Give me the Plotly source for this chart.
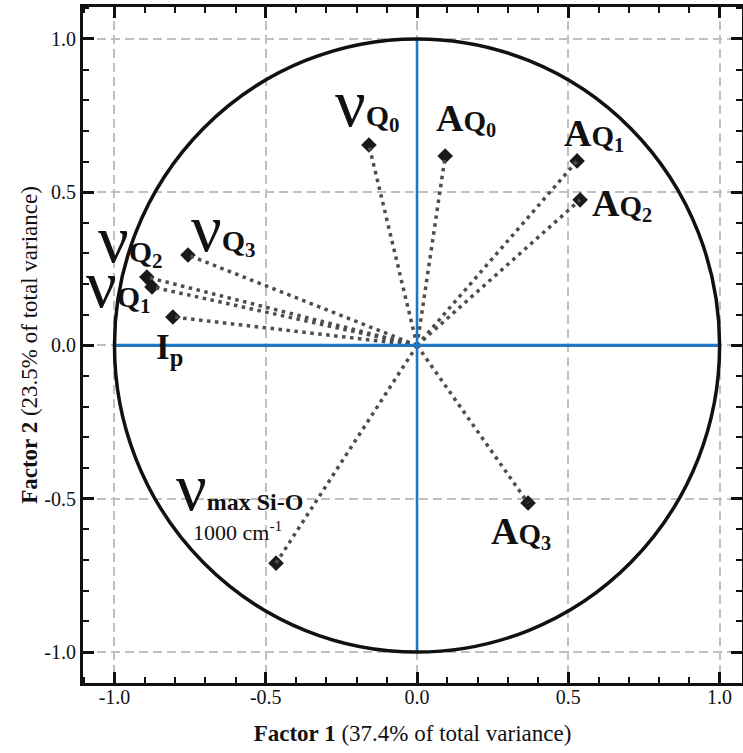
import plotly.graph_objects as go

# ---- data ----
names = ["vQ0", "AQ0", "AQ1", "AQ2", "vQ3", "vQ2", "vQ1", "Ip", "vmax", "AQ3"]
factor1 = [-0.159, 0.093, 0.529, 0.539, -0.757, -0.893, -0.876, -0.807, -0.466, 0.367]
factor2 = [0.654, 0.618, 0.602, 0.475, 0.295, 0.223, 0.191, 0.093, -0.710, -0.514]

tick_vals = [-1.0, -0.5, 0.0, 0.5, 1.0]
tick_text = ["-1.0", "-0.5", "0.0", "0.5", "1.0"]

NU = '<span style="font-size:68px;font-weight:normal">ν</span>'
def nuQ(k):
    return '<b>' + NU + '<span style="font-size:30px">Q<sub style="font-size:18px">' + k + '</sub></span></b>'
def aQ(k):
    return '<b><span style="font-size:38px">A</span><span style="font-size:29px">Q<sub style="font-size:18px">' + k + '</sub></span></b>'

labels = {
    "vQ0": nuQ("0"), "vQ1": nuQ("1"), "vQ2": nuQ("2"), "vQ3": nuQ("3"),
    "AQ0": aQ("0"), "AQ1": aQ("1"), "AQ2": aQ("2"), "AQ3": aQ("3"),
    "Ip": '<b><span style="font-size:35px">I<sub style="font-size:22px">p</sub></span></b>',
    "vmax": '<b>' + NU + '<span style="font-size:24px">max Si-O</span></b>',
}
# label offsets in pixels from each point (dx right, dy up)
offsets = {
    "vQ0": (-1, 42), "AQ0": (21, 37), "AQ1": (17, 27), "AQ2": (42, -4),
    "vQ3": (36, 27), "vQ2": (-16, 38), "vQ1": (-33, 3), "Ip": (-3, -33),
    "vmax": (-37, 76), "AQ3": (-7, -29),
}

fig = go.Figure()

# dotted loading vectors
lx, ly = [], []
for x, y in zip(factor1, factor2):
    lx += [0, x, None]
    ly += [0, y, None]

fig.add_trace(go.Scatter(x=factor1, y=factor2, mode="markers",
                         marker=dict(symbol="diamond", size=12, color="#1a1a1a"),
                         showlegend=False, hoverinfo="skip"))
fig.add_trace(go.Scatter(x=lx, y=ly, mode="lines",
                         line=dict(color="#4d4d4d", width=3.5, dash="3.5px,4.5px"),
                         showlegend=False, hoverinfo="skip"))

# blue axes and unit circle
fig.add_shape(type="line", xref="x", yref="y", x0=-1, y0=0, x1=1, y1=0,
              line=dict(color="#1f78c1", width=3.2), layer="above")
fig.add_shape(type="line", xref="x", yref="y", x0=0, y0=-1, x1=0, y1=1,
              line=dict(color="#1f78c1", width=2.6), layer="above")
fig.add_shape(type="circle", xref="x", yref="y", x0=-1, y0=-1, x1=1, y1=1,
              line=dict(color="#111111", width=3.5), layer="above")

font_family = "Liberation Serif"
for n, x, y in zip(names, factor1, factor2):
    dx, dy = offsets[n]
    fig.add_annotation(x=x, y=y, xref="x", yref="y", text=labels[n], showarrow=False,
                       xshift=dx, yshift=dy, xanchor="center", yanchor="middle",
                       font=dict(family=font_family, size=20, color="#111111"))
i = names.index("vmax")
fig.add_annotation(x=factor1[i], y=factor2[i], xref="x", yref="y",
                   text='1000 cm<sup>-1</sup>', showarrow=False,
                   xshift=-39, yshift=32, xanchor="center", yanchor="middle",
                   font=dict(family=font_family, size=22, color="#111111"))

axis_common = dict(
    tickvals=tick_vals, ticktext=tick_text, automargin=False,
    showgrid=True, gridcolor="#c0c0c0", gridwidth=1.6, griddash="9px,5px",
    zeroline=False,
    showline=True, linecolor="#111111", linewidth=3, mirror="ticks",
    ticks="inside", ticklen=11, tickwidth=2.5, tickcolor="#111111",
    minor=dict(dtick=0.1, ticks="inside", ticklen=6, tickwidth=2, tickcolor="#111111", showgrid=False),
    tickfont=dict(family=font_family, size=20, color="#111111"),
)

fig.update_layout(
    width=743, height=753,
    margin=dict(l=83, r=1, t=7, b=70),
    paper_bgcolor="white", plot_bgcolor="white",
    xaxis=dict(range=[-1.104, 1.074], **axis_common, ticklabelstandoff=-6,
               title=dict(text="<b>Factor 1</b> (37.4% of total variance)",
                          font=dict(family=font_family, size=23, color="#111111"), standoff=18)),
    yaxis=dict(range=[-1.101, 1.104], **axis_common,
               title=dict(text="<b>Factor 2</b> (23.5% of total variance)",
                          font=dict(family=font_family, size=23, color="#111111"), standoff=1)),
)

fig.write_html("out.html", config={"displayModeBar": False},
               post_script="document.body.style.margin='0';document.body.style.padding='0';")
